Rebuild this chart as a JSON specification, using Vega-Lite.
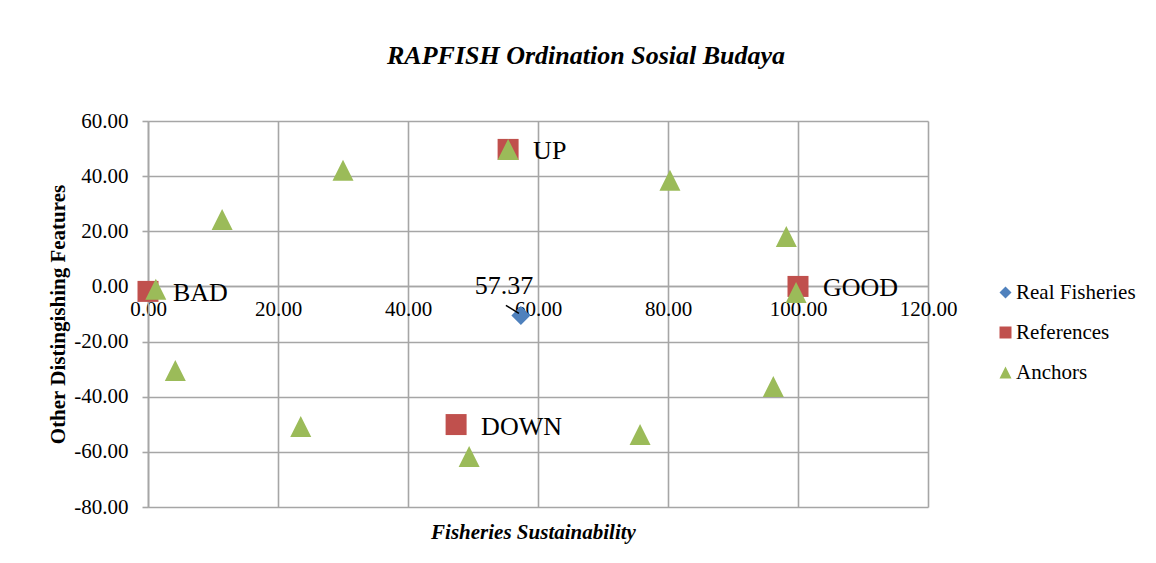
{
  "$schema": "https://vega.github.io/schema/vega-lite/v6.json",
  "autosize": "none",
  "width": 780,
  "height": 386,
  "padding": {"left": 148, "top": 121, "right": 228, "bottom": 56},
  "background": "white",
  "config": {
    "font": "Liberation Serif",
    "view": {"stroke": null},
    "legend": {"labelFont": "Liberation Serif", "labelFontSize": 21, "labelColor": "black"},
    "axis": {"gridColor": "#a6a6a6", "gridWidth": 1.6, "domainColor": "#a6a6a6", "domainWidth": 1.6, "tickColor": "#a6a6a6", "tickWidth": 1.6, "labelFont": "Liberation Serif", "labelFontSize": 21, "labelColor": "black", "titleFont": "Liberation Serif", "titleColor": "black"}
  },
  "title": {
    "text": "RAPFISH Ordination Sosial Budaya",
    "font": "Liberation Serif",
    "fontSize": 26,
    "fontStyle": "italic",
    "fontWeight": "bold",
    "color": "black",
    "anchor": "start",
    "frame": "group",
    "dx": 239,
    "offset": 41
  },
  "data": {
    "values": [
      {"series": "References", "x": 0, "y": -1.8, "label": "BAD"},
      {"series": "References", "x": 100, "y": 0, "label": "GOOD"},
      {"series": "References", "x": 55.4, "y": 49.7, "label": "UP"},
      {"series": "References", "x": 47.4, "y": -50.1, "label": "DOWN"},
      {"series": "Anchors", "x": 1.2, "y": -1.0, "label": ""},
      {"series": "Anchors", "x": 11.4, "y": 24.3, "label": ""},
      {"series": "Anchors", "x": 30.0, "y": 42.1, "label": ""},
      {"series": "Anchors", "x": 55.4, "y": 49.7, "label": ""},
      {"series": "Anchors", "x": 80.3, "y": 38.5, "label": ""},
      {"series": "Anchors", "x": 98.2, "y": 18.1, "label": ""},
      {"series": "Anchors", "x": 99.7, "y": -2.2, "label": ""},
      {"series": "Anchors", "x": 4.2, "y": -30.5, "label": ""},
      {"series": "Anchors", "x": 23.5, "y": -50.8, "label": ""},
      {"series": "Anchors", "x": 49.4, "y": -61.7, "label": ""},
      {"series": "Anchors", "x": 75.7, "y": -53.7, "label": ""},
      {"series": "Anchors", "x": 96.2, "y": -36.3, "label": ""},
      {"series": "Real Fisheries", "x": 57.37, "y": -10.5, "label": "57.37"}
    ]
  },
  "encoding": {
    "x": {
      "field": "x", "type": "quantitative",
      "scale": {"domain": [0, 120], "nice": false, "zero": false},
      "axis": {
        "values": [0, 20, 40, 60, 80, 100, 120],
        "format": ".2f",
        "orient": "bottom",
        "offset": -221,
        "ticks": false,
        "labelPadding": 12,
        "labelFlush": false,
        "title": "Fisheries Sustainability",
        "titleFontSize": 21,
        "titleFontStyle": "italic",
        "titleFontWeight": "bold",
        "titleX": 385,
        "titleY": 246,
        "titleBaseline": "middle"
      }
    },
    "y": {
      "field": "y", "type": "quantitative",
      "scale": {"domain": [-80, 60], "nice": false, "zero": false},
      "axis": {
        "values": [-80, -60, -40, -20, 0, 20, 40, 60],
        "format": ".2f",
        "labelExpr": "replace(datum.label, '\u2212', '-')",
        "tickSize": 6,
        "labelPadding": 14,
        "title": "Other Distingishing Features",
        "titleFontSize": 21,
        "titleFontWeight": "bold",
        "titlePadding": 5
      }
    },
    "color": {
      "field": "series", "type": "nominal",
      "scale": {"domain": ["Real Fisheries", "References", "Anchors"], "range": ["#4f81bd", "#c0504d", "#9bbb59"]},
      "legend": {
        "title": null,
        "orient": "none",
        "legendX": 847,
        "legendY": 161,
        "padding": 0,
        "labelFont": "Liberation Serif",
        "labelFontSize": 21,
        "labelColor": "black",
        "symbolSize": 144,
        "symbolStrokeWidth": 0,
        "labelOffset": 0,
        "rowPadding": 18
      }
    },
    "shape": {
      "field": "series", "type": "nominal",
      "scale": {"domain": ["Real Fisheries", "References", "Anchors"], "range": ["diamond", "square", "M0,-1L1,1L-1,1Z"]},
      "legend": {
        "title": null,
        "orient": "none",
        "legendX": 847,
        "legendY": 161,
        "padding": 0,
        "labelFont": "Liberation Serif",
        "labelFontSize": 21,
        "labelColor": "black",
        "symbolSize": 144,
        "symbolStrokeWidth": 0,
        "labelOffset": 0,
        "rowPadding": 18
      }
    }
  },
  "layer": [
    {
      "transform": [{"filter": "datum.series === 'References'"}],
      "mark": {"type": "point", "filled": true, "opacity": 1, "size": 441}
    },
    {
      "transform": [{"filter": "datum.series === 'Anchors'"}],
      "mark": {"type": "point", "filled": true, "opacity": 1, "size": 441}
    },
    {
      "transform": [{"filter": "datum.series === 'Real Fisheries'"}],
      "mark": {"type": "point", "filled": true, "opacity": 1, "size": 361}
    },
    {
      "transform": [{"filter": "datum.series === 'References'"}],
      "mark": {"type": "text", "align": "left", "baseline": "middle", "dx": 25, "dy": 2, "fontSize": 26, "font": "Liberation Serif", "color": "black"},
      "encoding": {"text": {"field": "label"}, "color": {"value": "black"}, "shape": null}
    },
    {
      "transform": [{"filter": "datum.series === 'Real Fisheries'"}],
      "mark": {"type": "text", "align": "center", "baseline": "middle", "dx": -17, "dy": -29, "fontSize": 26, "font": "Liberation Serif", "color": "black"},
      "encoding": {"text": {"field": "label"}, "color": {"value": "black"}, "shape": null}
    },
    {
      "transform": [{"filter": "datum.series === 'Real Fisheries'"}],
      "mark": {"type": "rule", "color": "black", "strokeWidth": 1.5, "xOffset": -2, "yOffset": -2, "x2Offset": -15, "y2Offset": -10},
      "encoding": {"x2": {"field": "x"}, "y2": {"field": "y"}, "color": {"value": "black"}, "shape": null}
    }
  ]
}
